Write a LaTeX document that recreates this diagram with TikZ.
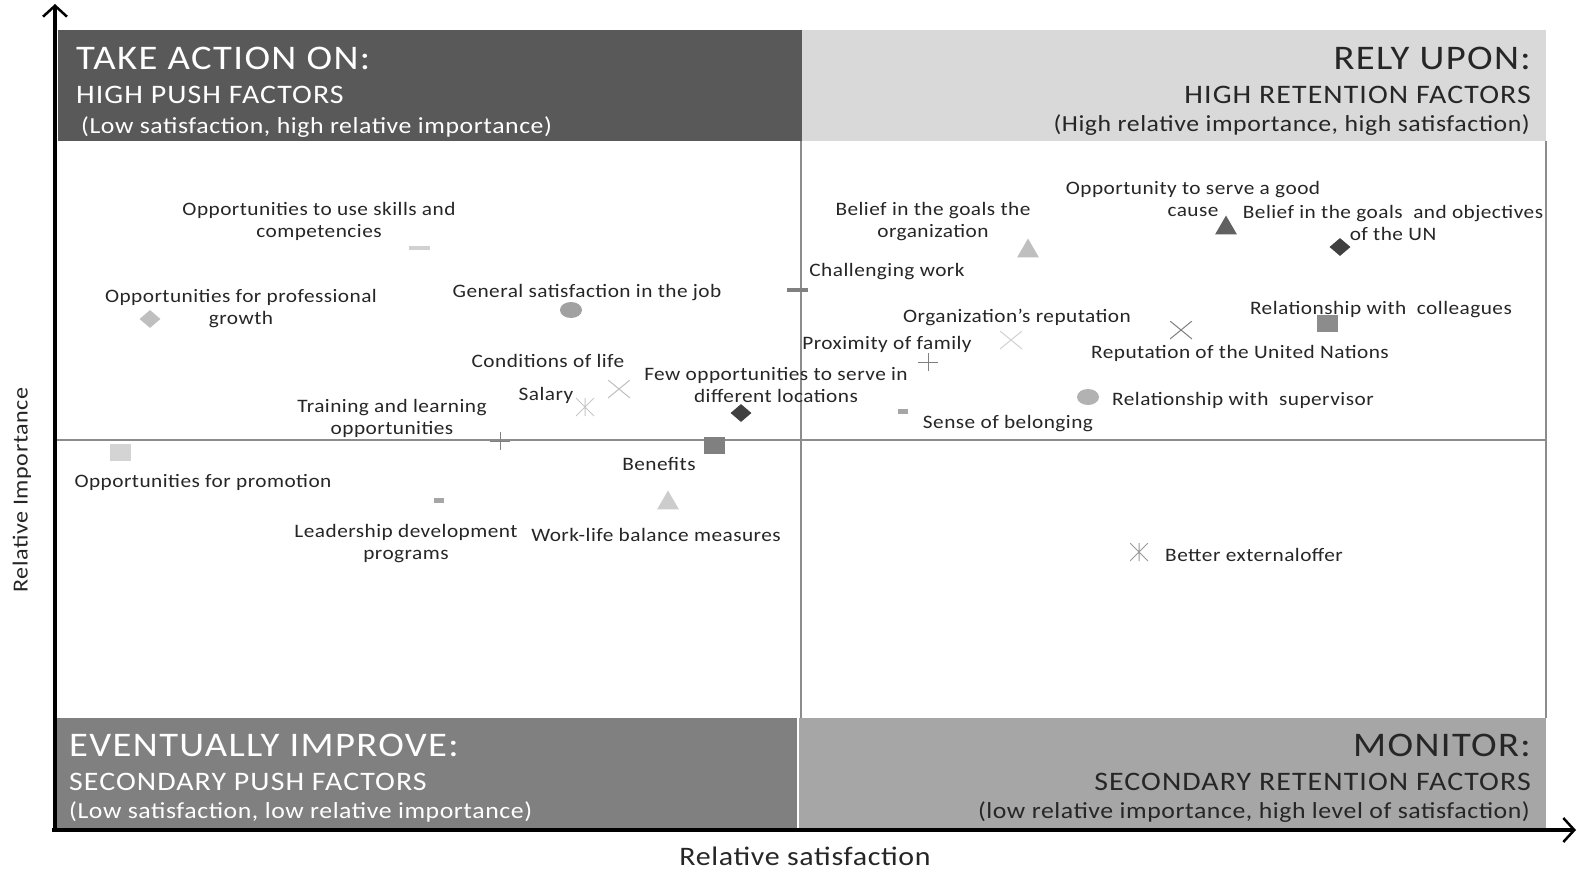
\documentclass[tikz,border=0pt]{standalone}
\usepackage{fontspec}
\setmainfont{Carlito}[FakeStretch=1.12,LetterSpace=2.5]
\newfontfamily\headfont{Carlito}[FakeStretch=1.12,LetterSpace=4]
\usetikzlibrary{shapes.geometric,arrows.meta}

\begin{document}
\begin{tikzpicture}[x=1pt,y=-1pt,
    lbl/.style={text=black!85,font=\fontsize{19}{22}\selectfont,align=center,inner sep=0pt,yshift=-2pt},
    ttl/.style={inner sep=0pt,font=\headfont\fontsize{34.5}{38}\selectfont},
    sub/.style={inner sep=0pt,font=\headfont\fontsize{26.7}{30}\selectfont},
    par/.style={inner sep=0pt,font=\fontsize{23}{26}\selectfont},
    mk/.style={inner sep=0pt,draw=none},
    msq/.style={mk,rectangle,fill=#1,minimum width=21,minimum height=17},
    mdia/.style={mk,diamond,fill=#1,minimum width=21,minimum height=18},
    mtri/.style={mk,regular polygon,regular polygon sides=3,fill=#1,minimum size=25},
    mell/.style={mk,ellipse,fill=#1,minimum width=22,minimum height=16},
    mdash/.style={mk,rectangle,fill=#1,minimum width=21,minimum height=4.5},
    mbit/.style={mk,rectangle,fill=#1,minimum width=10,minimum height=5},
    mcross/.style={mk,minimum width=22,minimum height=18,
      path picture={\draw[#1,line width=1pt] (path picture bounding box.north west) -- (path picture bounding box.south east)
        (path picture bounding box.south west) -- (path picture bounding box.north east);}},
    mplus/.style={mk,minimum width=20,minimum height=18,
      path picture={\draw[#1,line width=1pt] (path picture bounding box.west) -- (path picture bounding box.east)
        (path picture bounding box.north) -- (path picture bounding box.south);}},
    mstar/.style={mk,minimum width=18,minimum height=18,
      path picture={\draw[#1,line width=1pt] (path picture bounding box.north west) -- (path picture bounding box.south east)
        (path picture bounding box.south west) -- (path picture bounding box.north east)
        (path picture bounding box.north) -- (path picture bounding box.south);}}]

  \useasboundingbox[fill=white] (0,0) rectangle (1577,871);

  \fill[black!65] (58,30) rectangle (802,141);
  \fill[black!15] (802,30) rectangle (1546,141);
  \fill[black!50] (57,718) rectangle (798,828);
  \fill[black!35] (798,718) rectangle (1546,828);
  \draw[white,line width=1.5pt] (798,718) -- (798,828);
  \draw[black!45,line width=1.2pt] (1546,141) -- (1546,718);
  \draw[black!45,line width=1.2pt] (801,141) -- (801,718);
  \draw[black!45,line width=1.2pt] (57,440) -- (1546,440);

  \coordinate (o) at (55,830);
  \coordinate (ytip) at (55,4);
  \coordinate (xtip) at (1576,830);
  \draw[line width=3.5pt,-{Straight Barb[length=11pt,width=24pt,line width=2.5pt]}] (o) -- (ytip);
  \draw[line width=3.5pt,-{Straight Barb[length=11pt,width=24pt,line width=2.5pt]}] (52,830) -- (xtip);
  \node[rotate=90,inner sep=0pt,font=\fontsize{21.5}{24}\selectfont,text=black!85] (ylab) at (22,490) {Relative Importance};
  \node[inner sep=0pt,font=\fontsize{26.7}{30}\selectfont,text=black!85] (xlab) at (805,856) {Relative satisfaction};

  \node[ttl,white,anchor=base west] (tl1) at (76,69) {TAKE ACTION ON:};
  \node[sub,white,anchor=base west] (tl2) at (76,103) {HIGH PUSH FACTORS};
  \node[par,white,anchor=base west] (tl3) at (81,133) {(Low satisfaction, high relative importance)};
  \node[ttl,black!85,anchor=base east] (tr1) at (1531,69) {RELY UPON:};
  \node[sub,black!85,anchor=base east] (tr2) at (1531,103) {HIGH RETENTION FACTORS};
  \node[par,black!85,anchor=base east] (tr3) at (1530,131) {(High relative importance, high satisfaction)};
  \node[ttl,white,anchor=base west] (bl1) at (69,756) {EVENTUALLY IMPROVE:};
  \node[sub,white,anchor=base west] (bl2) at (69,790) {SECONDARY PUSH FACTORS};
  \node[par,white,anchor=base west] (bl3) at (69,818) {(Low satisfaction, low relative importance)};
  \node[ttl,black!85,anchor=base east] (br1) at (1531,756) {MONITOR:};
  \node[sub,black!85,anchor=base east] (br2) at (1531,790) {SECONDARY RETENTION FACTORS};
  \node[par,black!85,anchor=base east] (br3) at (1530,818) {(low relative importance, high level of satisfaction)};

  \node[lbl] (skills) at (319,219) {Opportunities to use skills and\\competencies};
  \node[lbl] (growth) at (241,307) {Opportunities for professional\\growth};
  \node[lbl] (gensat) at (587,291) {General satisfaction in the job};
  \node[lbl] (life) at (548,359) {Conditions of life};
  \node[lbl] (salary) at (546,393) {Salary};
  \node[lbl] (training) at (392,416) {Training and learning\\opportunities};
  \node[lbl] (fewopp) at (776,383) {Few opportunities to serve in\\different locations};
  \node[lbl] (benefits) at (659,462) {Benefits};
  \node[lbl] (promo) at (203,480) {Opportunities for promotion};
  \node[lbl] (leader) at (406,542) {Leadership development\\programs};
  \node[lbl] (worklife) at (656,533) {Work-life balance measures};
  \node[lbl] (goalsorg) at (933,220) {Belief in the goals the\\organization};
  \node[lbl] (challenge) at (887,270) {Challenging work};
  \node[lbl] (cause) at (1193,197) {Opportunity to serve a good\\cause};
  \node[lbl] (goalsun) at (1393,221) {Belief in the goals~ and objectives\\of the UN};
  \node[lbl] (orgrep) at (1017,315) {Organization's reputation};
  \node[lbl] (family) at (887,342) {Proximity of family};
  \node[lbl] (colleag) at (1381,308) {Relationship with~ colleagues};
  \node[lbl] (unrep) at (1240,351) {Reputation of the United Nations};
  \node[lbl] (superv) at (1243,398) {Relationship with~ supervisor};
  \node[lbl] (belong) at (1008,422) {Sense of belonging};
  \node[lbl] (offer) at (1254,553) {Better externaloffer};

  \node[mdash=black!18] (m-skills) at (419,248) {};
  \node[mdia=black!25] (m-growth) at (150,319) {};
  \node[mell=black!37] (m-gensat) at (571,310) {};
  \node[mcross=black!25] (m-life) at (619,389) {};
  \node[mstar=black!22] (m-salary) at (585,407) {};
  \node[mplus=black!50] (m-training) at (500,441) {};
  \node[mdia=black!75] (m-fewopp) at (741,413) {};
  \node[msq=black!50] (m-benefits) at (714,445) {};
  \node[msq=black!17] (m-promo) at (120,452) {};
  \node[mbit=black!35] (m-leader) at (439,500) {};
  \node[mtri=black!20] (m-worklife) at (668,503) {};
  \node[mtri=black!25] (m-goalsorg) at (1028,251) {};
  \node[mdash=black!50] (m-challenge) at (797,290) {};
  \node[mtri=black!62] (m-cause) at (1226,228) {};
  \node[mdia=black!75] (m-goalsun) at (1340,247) {};
  \node[mcross=black!18] (m-orgrep) at (1011,340) {};
  \node[mplus=black!50] (m-family) at (928,362) {};
  \node[msq=black!45] (m-colleag) at (1327,323) {};
  \node[mcross=black!50] (m-unrep) at (1181,330) {};
  \node[mell=black!30] (m-superv) at (1088,397) {};
  \node[mbit=black!35] (m-belong) at (903,411) {};
  \node[mstar=black!40] (m-offer) at (1139,552) {};
\end{tikzpicture}
\end{document}
